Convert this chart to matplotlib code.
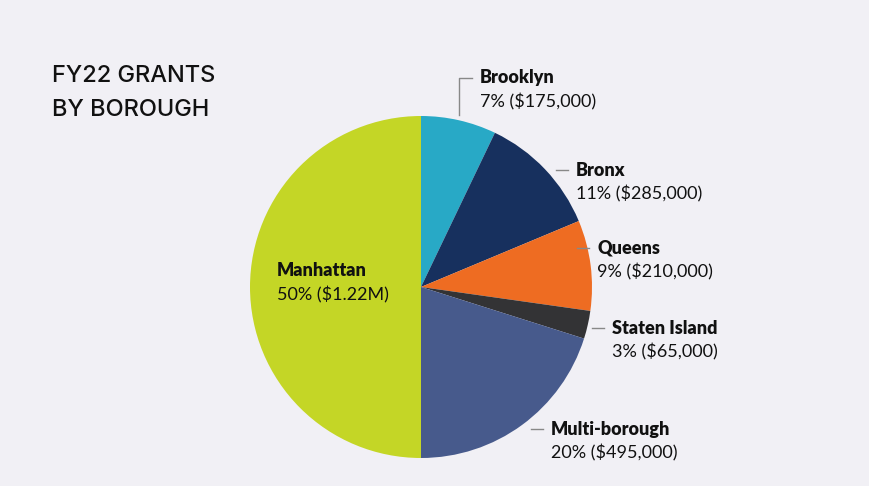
import matplotlib.pyplot as plt

# data
boroughs = ['Brooklyn', 'Bronx', 'Queens', 'Staten Island', 'Multi-borough', 'Manhattan']
grants = [175000, 285000, 210000, 65000, 495000, 1230000]
pct_labels = ['7%', '11%', '9%', '3%', '20%', '50%']
amount_labels = ['$175,000', '$285,000', '$210,000', '$65,000', '$495,000', '$1.22M']
colors = ['#28a9c6', '#17305e', '#ee6c22', '#333335', '#475a8c', '#c4d626']

bg = '#f1f0f5'
fig = plt.figure(figsize=(8.69, 4.86), dpi=100, facecolor=bg)
ax = fig.add_axes([0, 0, 1, 1])

ax.pie(grants, colors=colors, startangle=90, counterclock=False,
       center=(421, 199), radius=171, frame=True,
       wedgeprops=dict(linewidth=0))
ax.set_xlim(0, 869)
ax.set_ylim(0, 486)
ax.set_aspect('equal')
ax.axis('off')

# title
ax.text(52, 393, 'FY22 GRANTS\nBY BOROUGH', fontsize=17, family='Inter',
        fontweight='medium', color='#111111', va='center', ha='left',
        linespacing=1.75)

# label positions (text left x, name line y)
label_x = [480, 576, 597, 612, 551, 277]
label_y = [408, 316, 238, 158, 57, 215]
for i, name in enumerate(boroughs):
    ax.text(label_x[i], label_y[i], name, fontsize=13, family='Lato',
            fontweight='heavy', color='#111111', va='center', ha='left')
    ax.text(label_x[i], label_y[i] - 24, f'{pct_labels[i]} ({amount_labels[i]})',
            fontsize=13, family='Lato', color='#111111', va='center', ha='left')
    if name == 'Brooklyn':
        ax.plot([472, 459, 459], [label_y[i], label_y[i], 371], color='#888888', lw=1)
    elif name != 'Manhattan':
        ax.plot([label_x[i] - 20, label_x[i] - 8], [label_y[i], label_y[i]],
                color='#888888', lw=1)

plt.savefig('out.png', dpi=100, facecolor=bg)
